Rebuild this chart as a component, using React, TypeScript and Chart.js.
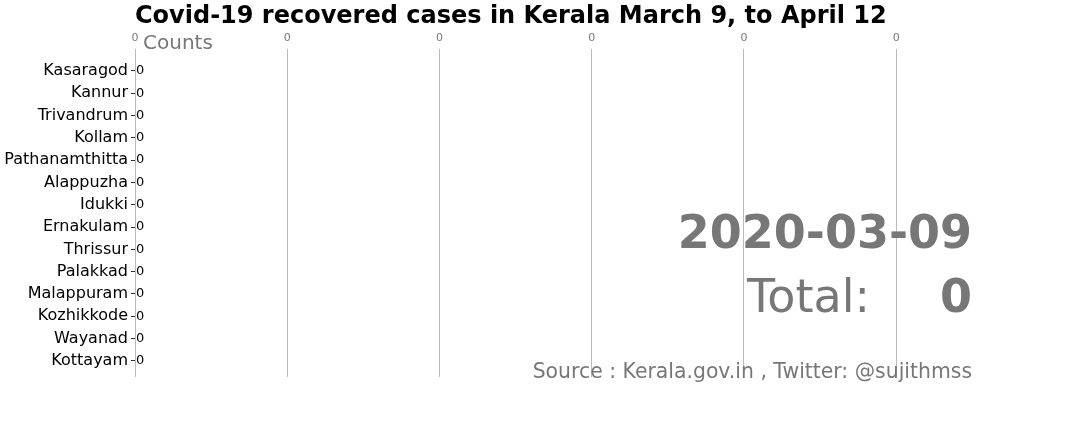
import React, { useEffect, useRef } from "react";
import { Chart, registerables } from "chart.js";

Chart.register(...registerables);

const districts = [
  "Kasaragod",
  "Kannur",
  "Trivandrum",
  "Kollam",
  "Pathanamthitta",
  "Alappuzha",
  "Idukki",
  "Ernakulam",
  "Thrissur",
  "Palakkad",
  "Malappuram",
  "Kozhikkode",
  "Wayanad",
  "Kottayam",
];
const recovered = [0, 0, 0, 0, 0, 0, 0, 0, 0, 0, 0, 0, 0, 0];
const xTickValues = [0, 0.01, 0.02, 0.03, 0.04, 0.05];
const titleText = "Covid-19 recovered cases in Kerala March 9, to April 12";
const axisLabel = "Counts";
const dateLabel = "2020-03-09";
const totalLabel = "Total:";
const totalValue = recovered.reduce((a, b) => a + b, 0);
const sourceText = "Source : Kerala.gov.in , Twitter: @sujithmss";

const FONT = "'DejaVu Sans', sans-serif";

export default function App() {
  const ref = useRef<HTMLCanvasElement | null>(null);

  useEffect(() => {
    if (!ref.current) return;
    const textPlugin = {
      id: "texts",
      afterDraw(chart: any) {
        const ctx = chart.ctx;
        const area = chart.chartArea;
        const xs = chart.scales.x;
        const ys = chart.scales.y;
        ctx.save();
        // value labels
        ctx.fillStyle = "#000";
        ctx.font = `13px ${FONT}`;
        ctx.textAlign = "left";
        ctx.textBaseline = "middle";
        recovered.forEach((v, i) => {
          ctx.fillText(String(v), xs.getPixelForValue(v) + 1, ys.getPixelForValue(i));
        });
        // title
        ctx.fillStyle = "#000";
        ctx.font = `bold 24px ${FONT}`;
        ctx.textBaseline = "alphabetic";
        ctx.textAlign = "left";
        ctx.fillText(titleText, area.left, 23);
        // Counts
        ctx.fillStyle = "#777777";
        ctx.font = `20px ${FONT}`;
        ctx.fillText(axisLabel, area.left + 8, 49);
        // date
        ctx.textAlign = "right";
        ctx.font = `bold 46px ${FONT}`;
        ctx.fillText(dateLabel, area.right - 43, 248);
        // total
        ctx.font = `46px ${FONT}`;
        ctx.fillText(totalLabel, area.right - 145, 312);
        ctx.font = `bold 46px ${FONT}`;
        ctx.fillText(String(totalValue), area.right - 43, 312);
        // source
        ctx.font = `20.4px ${FONT}`;
        ctx.fillText(sourceText, area.right - 43, 378);
        ctx.restore();
      },
    };

    const chart = new Chart(ref.current, {
      type: "bar",
      data: {
        datasets: [
          {
            data: recovered.map((v, i) => ({ x: v, y: i })),
            backgroundColor: "#4c72b0",
            barPercentage: 0.8,
            categoryPercentage: 1,
          },
        ],
      },
      plugins: [textPlugin],
      options: {
        indexAxis: "y",
        animation: false,
        responsive: false,
        layout: { padding: { top: 29, left: 0, right: 65, bottom: 55 } },
        plugins: {
          legend: { display: false },
          tooltip: { enabled: false },
          title: { display: false },
        },
        scales: {
          x: {
            type: "linear",
            position: "top",
            min: 0,
            max: 0.0578,
            afterBuildTicks: (s: any) => {
              s.ticks = xTickValues.map((v) => ({ value: v }));
            },
            afterFit: (s: any) => {
              s.height = 20;
            },
            grid: { color: "#bbbbbb", lineWidth: 1, drawTicks: false },
            border: { display: false },
            ticks: {
              color: "#777777",
              font: { family: FONT, size: 11 },
              padding: 4,
              maxRotation: 0,
              autoSkip: false,
              callback: (v: any) => Math.round(Number(v)).toString(),
            },
          },
          y: {
            type: "linear",
            reverse: true,
            offset: false,
            min: -0.98,
            max: 13.72,
            afterBuildTicks: (s: any) => {
              s.ticks = districts.map((_, i) => ({ value: i }));
            },
            afterFit: (s: any) => {
              s.width = 135;
            },
            grid: {
              offset: false,
              drawOnChartArea: false,
              drawTicks: true,
              tickLength: 4,
              color: "#333333",
            },
            border: { display: false },
            ticks: {
              color: "#000000",
              font: { family: FONT, size: 16 },
              padding: 3,
              autoSkip: false,
              callback: (v: any) => districts[Number(v)] ?? "",
            },
          },
        },
      },
    } as any);
    return () => chart.destroy();
  }, []);

  return (
    <div style={{ position: "absolute", left: 0, top: 0, width: 1080, height: 432, background: "#fff" }}>
      <canvas ref={ref} width={1080} height={432} style={{ display: "block" }} />
    </div>
  );
}
